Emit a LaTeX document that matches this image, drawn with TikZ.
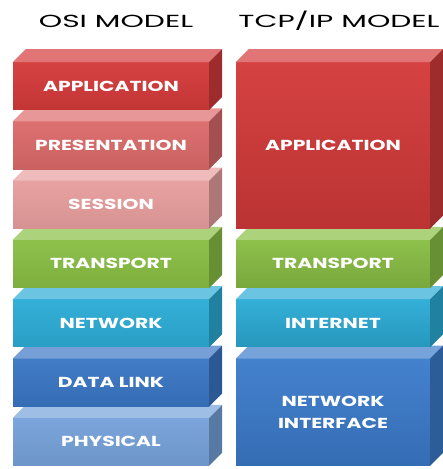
\documentclass[tikz,border=0pt]{standalone}
\usepackage{fontspec}
\newfontfamily\stackfont[FakeStretch=1.4]{Poppins}
\newfontfamily\titlefont[FakeStretch=1.7]{Poppins}
\usetikzlibrary{positioning}
\definecolor{appred}{RGB}{212,58,58}
\definecolor{presred}{RGB}{220,106,106}
\definecolor{sesspink}{RGB}{232,158,158}
\definecolor{trgreen}{RGB}{137,190,68}
\definecolor{netcyan}{RGB}{44,172,214}
\definecolor{dlblue}{RGB}{58,118,196}
\definecolor{phyblue}{RGB}{118,162,218}
\definecolor{nifblue}{RGB}{60,124,204}

\tikzset{
  stackface/.style={inner sep=0pt, anchor=north, align=center, text=white,
    font=\stackfont\bfseries\fontsize{14.5}{22}\selectfont},
  stacktitle/.style={inner sep=0pt, font=\titlefont\fontsize{17.5}{20}\selectfont}
}

\begin{document}
\begin{tikzpicture}[x=1pt,y=-1pt]
    \useasboundingbox (0,0) rectangle (443,469);
    \clip (0,0) rectangle (443,469);

    \node[stacktitle] (osi) at (116,21) {OSI MODEL};
    \node[stacktitle] (tcp) at (339,21) {TCP/IP MODEL};

    % OSI stack, drawn from the bottom so upper blocks lie in front
    \foreach \i/\n/\c/\m in {
        6/phy/phyblue/PHYSICAL,
        5/dl/dlblue/DATA LINK,
        4/net/netcyan/NETWORK,
        3/tra/trgreen/TRANSPORT,
        2/ses/sesspink/SESSION,
        1/pre/presred/PRESENTATION,
        0/app/appred/APPLICATION}
    {
        \node[stackface, minimum width=196pt, minimum height=47.5pt,
            top color=\c!96!white, bottom color=\c!92!black]
            (osi-\n) at (111,62+59.3*\i) {\m};
        \fill[\c!70!white] (osi-\n.north west) -- ++(13,-13)
            -- ([shift={(13,-13)}]osi-\n.north east) -- (osi-\n.north east) -- cycle;
        \fill[\c!75!black] (osi-\n.north east) -- ([shift={(13,-13)}]osi-\n.north east)
            -- ([shift={(13,-13)}]osi-\n.south east) -- (osi-\n.south east) -- cycle;
    }

    % TCP/IP stack
    \foreach \n/\t/\h/\c/\m in {
        nif/358.5/106.8/nifblue/{NETWORK\\INTERFACE},
        int/299.2/47.5/netcyan/INTERNET,
        tra/239.9/47.5/trgreen/TRANSPORT,
        app/62/166.1/appred/APPLICATION}
    {
        \node[stackface, minimum width=194pt, minimum height=\h pt,
            top color=\c!96!white, bottom color=\c!88!black]
            (tcp-\n) at (333,\t) {\m};
        \fill[\c!70!white] (tcp-\n.north west) -- ++(13,-13)
            -- ([shift={(13,-13)}]tcp-\n.north east) -- (tcp-\n.north east) -- cycle;
        \fill[\c!75!black] (tcp-\n.north east) -- ([shift={(13,-13)}]tcp-\n.north east)
            -- ([shift={(13,-13)}]tcp-\n.south east) -- (tcp-\n.south east) -- cycle;
    }
\end{tikzpicture}
\end{document}
